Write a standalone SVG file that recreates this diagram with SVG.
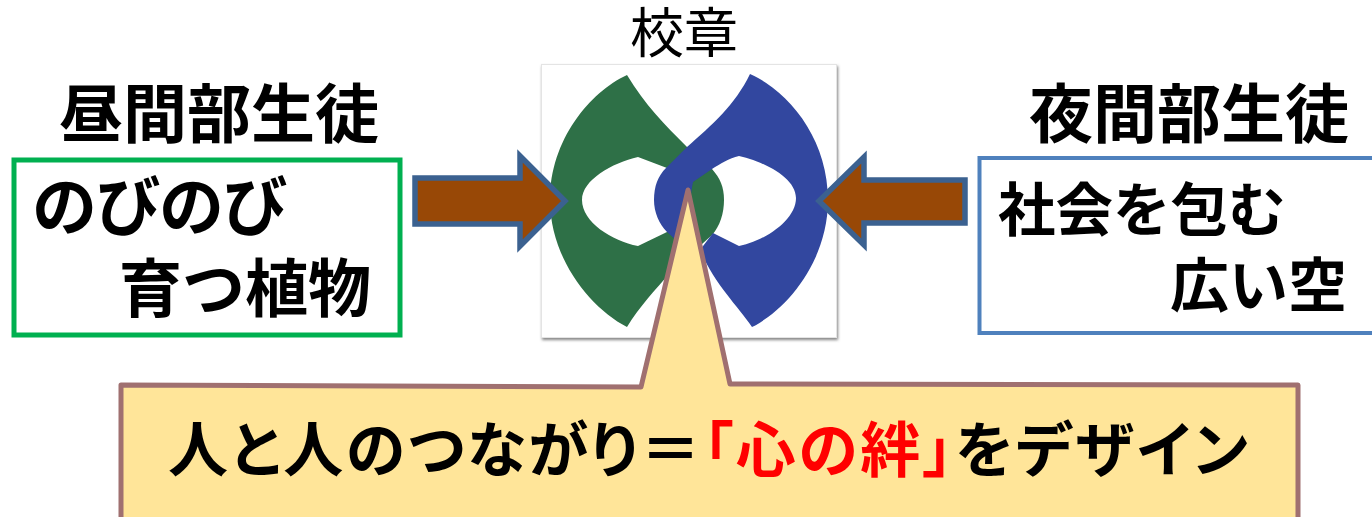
<svg xmlns="http://www.w3.org/2000/svg" width="1372" height="517" viewBox="0 0 1372 517">
<style>
text{font-family:"Noto Sans CJK JP","Noto Sans",sans-serif;fill:#000}
.h{font-size:64px;font-weight:700}
.b{font-size:63px;font-weight:700}
.c{font-size:60px;font-weight:700;font-feature-settings:"palt";letter-spacing:2.6px}
.arrow{fill:#984806;stroke:#3b6190;stroke-width:5.5;stroke-linejoin:miter}
</style>
<defs>
<filter id="sh" x="-5%" y="-5%" width="110%" height="110%"><feDropShadow dx="1" dy="2" stdDeviation="1.5" flood-color="#666" flood-opacity=".8"/></filter>
<filter id="soft" x="-5%" y="-5%" width="110%" height="110%"><feGaussianBlur stdDeviation=".7"/></filter>
</defs>
<rect width="1372" height="517" fill="#fff"/>
<g id="emblem">
<rect x="541.5" y="64.5" width="295" height="273" fill="#fff" stroke="#e4e4e4" filter="url(#sh)"/>
<g filter="url(#soft)">
<path fill="#2f6f46" fill-rule="evenodd" d="M627 75C590 92 550 140 550 200C550 258 590 308 627 327C640 306 655 290 670 273L712 235C720 226 724 213 724 200C724 187 720 178 712 169L687 147C665 125 645 105 627 75ZM582 200C582 180 612 163 638 157L667 168L667 232L638 246C612 241 582 222 582 200Z"/>
<path fill="#30479f" d="M750 74C790 92 828 140 828 200C828 258 790 308 752 327C738 306 715 285 700 250L713 233L739 246C765 241 796 220 796 198C796 178 765 162 739 156C729 158 720 164 712 169L693 182C690 195 690 215 686 231L678 242L667 232C659 224 654 212 654 200C654 186 658 176 666 168L687 147C712 125 735 105 750 74Z"/>
</g>
</g>
<g id="connectors">
<path class="arrow" d="M415 178H520V156L565 201L520 246V224H415Z"/>
<path class="arrow" d="M965 180H864V157L819 201L864 245V223H965Z"/>
</g>
<g id="title"><text x="630" y="53" style="font-size:54px">校章</text></g>
<g id="day">
<text class="h" x="59" y="137">昼間部生徒</text>
<rect x="14" y="160" width="386" height="175" fill="#fff" stroke="#00b050" stroke-width="5"/>
<text class="b" x="32" y="230" style="font-size:65px;letter-spacing:-1.5px">のびのび</text>
<text class="b" x="119" y="311">育つ植物</text>
</g>
<g id="night">
<text class="h" x="1029" y="137">夜間部生徒</text>
<rect x="979.5" y="158" width="400" height="175" fill="#fff" stroke="#4f81bd" stroke-width="4"/>
<text class="b" x="998" y="231" style="font-size:57.5px">社会を包む</text>
<text class="b" x="1170" y="307" style="font-size:59px">広い空</text>
</g>
<g id="callout">
<path fill="#ffe599" stroke="#a07070" stroke-width="5" stroke-linejoin="round" d="M121 385L641 387L688 190L730 384L1298 385V530H121Z"/>
<text class="c" x="168" y="472">人と人のつながり＝<tspan style="fill:#f00">「心の絆」</tspan>をデザイン</text>
</g>
</svg>
